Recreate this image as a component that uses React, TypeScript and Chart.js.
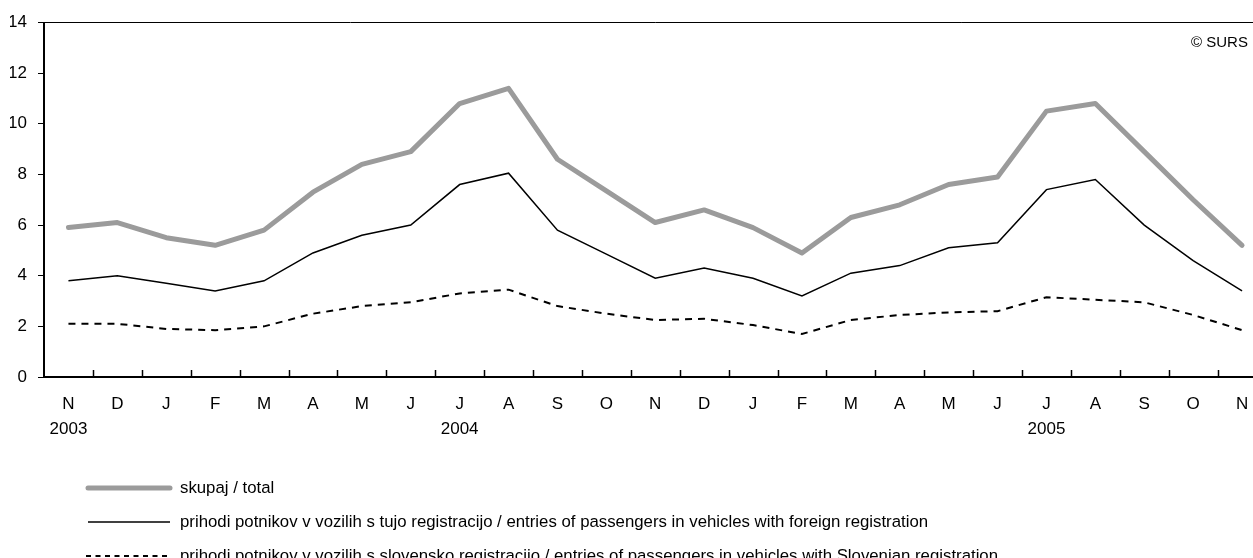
import React, { useEffect, useRef } from "react";
import { Chart, registerables } from "chart.js";

Chart.register(...registerables);

const months = ["N", "D", "J", "F", "M", "A", "M", "J", "J", "A", "S", "O", "N", "D", "J", "F", "M", "A", "M", "J", "J", "A", "S", "O", "N"];
const years = ["2003", "", "", "", "", "", "", "", "2004", "", "", "", "", "", "", "", "", "", "", "", "2005", "", "", "", ""];

const total = [5.9, 6.1, 5.5, 5.2, 5.8, 7.3, 8.4, 8.9, 10.8, 11.4, 8.6, 7.35, 6.1, 6.6, 5.9, 4.9, 6.3, 6.8, 7.6, 7.9, 10.5, 10.8, 8.9, 7.0, 5.2];
const foreign = [3.8, 4.0, 3.7, 3.4, 3.8, 4.9, 5.6, 6.0, 7.6, 8.05, 5.8, 4.85, 3.9, 4.3, 3.9, 3.2, 4.1, 4.4, 5.1, 5.3, 7.4, 7.8, 6.0, 4.6, 3.4];
const slovenian = [2.1, 2.1, 1.9, 1.85, 2.0, 2.5, 2.8, 2.95, 3.3, 3.45, 2.8, 2.5, 2.25, 2.3, 2.05, 1.7, 2.25, 2.45, 2.55, 2.6, 3.15, 3.05, 2.95, 2.45, 1.85];

const seriesNames = [
  "skupaj / total",
  "prihodi potnikov v vozilih s tujo registracijo / entries of passengers in vehicles with foreign registration",
  "prihodi potnikov v vozilih s slovensko registracijo / entries of passengers in vehicles with Slovenian registration",
];

const yTicks = [0, 2, 4, 6, 8, 10, 12, 14];
const copyright = "© SURS";

const FAMILY = '"Liberation Sans", Arial, sans-serif';

export default function App() {
  const ref = useRef<HTMLCanvasElement>(null);

  useEffect(() => {
    if (!ref.current) return;
    const tickSize = 17;
    const legendSize = 16.8;
    const copySize = 15;

    const labels = months.map((m, i) => (years[i] ? [m, years[i]] : m));

    const extras = {
      id: "extras",
      afterDraw(chart: any) {
        const ctx = chart.ctx;
        const xs = chart.scales.x;
        const area = chart.chartArea;
        const half = (xs.getPixelForValue(1) - xs.getPixelForValue(0)) / 2;
        ctx.save();
        // inward tick marks between categories
        ctx.strokeStyle = "#000";
        ctx.lineWidth = 1.5;
        for (let i = 1; i <= months.length; i++) {
          const x = Math.round(xs.getPixelForValue(i) - half) + 0.5;
          ctx.beginPath();
          ctx.moveTo(x, area.bottom);
          ctx.lineTo(x, area.bottom - 7);
          ctx.stroke();
        }
        // copyright
        ctx.fillStyle = "#000";
        ctx.font = `${copySize}px ${FAMILY}`;
        ctx.textBaseline = "middle";
        ctx.textAlign = "left";
        ctx.fillText(copyright, 1191, 43);
        // legend
        const rows = [488, 522, 556];
        chart.data.datasets.forEach((ds: any, i: number) => {
          const y = rows[i];
          ctx.beginPath();
          ctx.strokeStyle = ds.borderColor;
          ctx.lineWidth = ds.borderWidth;
          ctx.setLineDash(i === 2 ? [5, 4.5] : []);
          ctx.lineCap = i === 0 ? "round" : "butt";
          ctx.moveTo(i === 2 ? 86 : 88, y);
          ctx.lineTo(170, y);
          ctx.stroke();
          ctx.setLineDash([]);
          ctx.fillStyle = "#000";
          ctx.font = `${legendSize}px ${FAMILY}`;
          ctx.textBaseline = "middle";
          ctx.fillText(ds.label, 180, y);
        });
        ctx.restore();
      },
    };

    const chart = new Chart(ref.current, {
      type: "line",
      data: {
        labels,
        datasets: [
          {
            label: seriesNames[0],
            data: total,
            borderColor: "#9b9b9b",
            borderWidth: 5,
            pointRadius: 0,
            tension: 0,
            borderJoinStyle: "round",
            borderCapStyle: "round",
          },
          {
            label: seriesNames[1],
            data: foreign,
            borderColor: "#000000",
            borderWidth: 1.5,
            pointRadius: 0,
            tension: 0,
          },
          {
            label: seriesNames[2],
            data: slovenian,
            borderColor: "#000000",
            borderWidth: 2,
            borderDash: [7, 6],
            pointRadius: 0,
            tension: 0,
          },
        ],
      },
      options: {
        animation: false,
        responsive: false,
        maintainAspectRatio: false,
        events: [],
        layout: { padding: { left: 10, right: 13.5, top: 22.5, bottom: 116 } },
        plugins: {
          legend: { display: false },
          tooltip: { enabled: false },
          title: { display: false },
        },
        scales: {
          x: {
            type: "category",
            offset: true,
            grid: { display: false, drawTicks: false },
            border: { display: true, color: "#000", width: 2 },
            ticks: {
              autoSkip: false,
              maxRotation: 0,
              minRotation: 0,
              padding: 15,
              color: "#000",
              font: { family: FAMILY, size: tickSize, lineHeight: "25px" },
            },
            afterFit(scale: any) {
              scale.height = 65;
              scale.paddingLeft = 0;
              scale.paddingRight = 0;
            },
          },
          y: {
            min: 0,
            max: 14,
            afterBuildTicks(scale: any) {
              scale.ticks = yTicks.map((v) => ({ value: v }));
            },
            grid: {
              drawOnChartArea: true,
              drawTicks: true,
              tickLength: 6,
              tickWidth: 1,
              tickColor: "#000",
              lineWidth: 1,
              color: (c: any) => (c.tick && c.tick.value === 14 ? "#000" : "rgba(0,0,0,0)"),
            },
            border: { display: true, color: "#000", width: 2 },
            ticks: {
              padding: 11,
              color: "#000",
              font: { family: FAMILY, size: tickSize },
            },
            afterFit(scale: any) {
              scale.width = 34;
              scale.paddingTop = 0;
              scale.paddingBottom = 0;
            },
          },
        },
      },
      plugins: [extras],
    });
    return () => chart.destroy();
  }, []);

  return (
    <div style={{ position: "fixed", left: 0, top: 0, width: 1253, height: 558, overflow: "hidden", background: "#fff" }}>
      <canvas ref={ref} width={1280} height={558} style={{ width: 1280, height: 558, display: "block" }} />
    </div>
  );
}
